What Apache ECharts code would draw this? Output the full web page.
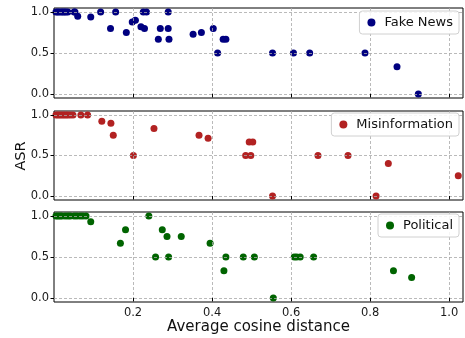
<!DOCTYPE html>
<html><head><meta charset="utf-8">
<script src="https://cdn.jsdelivr.net/npm/echarts@6/dist/echarts.min.js"></script>
<style>html,body{margin:0;padding:0;background:#fff}#c{width:465px;height:338px}</style>
</head><body><div id="c"></div>
<script>
const seriesNames = ['Fake News', 'Misinformation', 'Political'];
const xTicks = [0.2, 0.4, 0.6, 0.8, 1.0];
const yTicks = [0.0, 0.5, 1.0];

const fakeNewsX = [0.005,0.009,0.013,0.018,0.022,0.026,0.030,0.035,0.051,0.053,
  0.060,0.093,0.118,0.156,0.143,0.183,0.198,0.206,0.226,0.234,0.220,0.229,0.264,0.269,0.289,0.289,0.291,
  0.352,0.373,0.403,0.414,0.428,0.435,0.553,0.606,0.647,0.787,0.868,0.922];
const fakeNewsY = [1,1,1,1,1,1,1,1,1,1,
  0.95,0.94,1,1,0.8,0.75,0.88,0.9,1,1,0.82,0.8,0.667,0.8,1,0.8,0.667,
  0.73,0.75,0.8,0.5,0.667,0.667,0.5,0.5,0.5,0.5,0.333,0];

const misinfoX = [0.005,0.010,0.015,0.020,0.025,0.030,0.035,0.041,0.048,0.068,0.085,
  0.121,0.144,0.150,0.201,0.253,0.367,0.390,0.494,0.503,0.485,0.498,0.553,0.668,0.744,0.846,0.815,1.023];
const misinfoY = [1,1,1,1,1,1,1,1,1,1,1,
  0.923,0.9,0.75,0.5,0.833,0.75,0.714,0.667,0.667,0.5,0.5,0,0.5,0.5,0.4,0,0.25];

const politicalX = [0.005,0.010,0.015,0.020,0.028,0.035,0.041,0.051,0.058,0.066,0.073,0.081,0.240,
  0.093,0.168,0.181,0.257,0.274,0.286,0.290,0.322,0.395,0.430,0.435,0.479,0.507,0.555,0.608,0.614,0.623,0.657,0.859,0.905];
const politicalY = [1,1,1,1,1,1,1,1,1,1,1,1,1,
  0.93,0.667,0.833,0.5,0.833,0.75,0.5,0.75,0.667,0.333,0.5,0.5,0.5,0,0.5,0.5,0.5,0.5,0.333,0.25];

const colors = ['#000080', '#B22222', '#006400'];
const xs = [fakeNewsX, misinfoX, politicalX];
const ys = [fakeNewsY, misinfoY, politicalY];

const grids = [{top:8,height:90},{top:111,height:89},{top:212,height:90}];
const legendTops = [11, 113, 214];
const font = 'DejaVu Sans';

const chart = echarts.init(document.getElementById('c'), null, {renderer:'canvas'});
const option = {
  animation: false,
  textStyle: {fontFamily: font},
  grid: grids.map(g => ({left:54, right:2, top:g.top, height:g.height, show:true, borderColor:'#000', borderWidth:1, backgroundColor:'transparent'})),
  xAxis: grids.map((g,i) => ({
    type:'value', gridIndex:i, min:0, max:1.035, z:3,
    axisLine:{show:false},
    axisTick:{show:true, length:3.5, inside:false, customValues:xTicks, lineStyle:{color:'#000'}},
    axisLabel:{show:i===2, customValues:xTicks, margin:5, color:'#1a1a1a', fontSize:11.5, fontFamily:font,
      formatter:v=>v.toFixed(1)},
    splitLine:{show:true, lineStyle:{color:'#a8a8a8', type:[3,2], width:0.8}}
  })),
  yAxis: grids.map((g,i) => ({
    type:'value', gridIndex:i, min:-0.05, max:1.05, z:3,
    axisLine:{show:false},
    axisTick:{show:true, length:3.5, customValues:yTicks, lineStyle:{color:'#000'}},
    axisLabel:{show:true, customValues:yTicks, margin:5, color:'#1a1a1a', fontSize:11.5, fontFamily:font,
      formatter:v=>v.toFixed(1)},
    splitLine:{show:true, lineStyle:{color:'#a8a8a8', type:[3,2], width:0.8}}
  })),
  legend: seriesNames.map((n,i) => ({
    data:[n], right:6, top:legendTops[i], orient:'vertical',
    backgroundColor:'rgba(255,255,255,0.85)', borderColor:'#d0d0d0', borderWidth:1, borderRadius:3,
    padding:[5,6,5,8], itemWidth:8, itemHeight:8, itemGap:4, icon:'circle',
    textStyle:{fontSize:13, color:'#111', fontFamily:font, padding:[0,0,0,4]}
  })),
  series: seriesNames.map((n,i) => ({
    name:n, type:'scatter', xAxisIndex:i, yAxisIndex:i, symbolSize:7, z:2,
    itemStyle:{color:colors[i], opacity:1},
    data: xs[i].map((x,j) => [x, ys[i][j]])
  })),
  graphic: [
    {type:'text', x:258.5, y:327, style:{text:'Average cosine distance', font:'15px "DejaVu Sans"', fill:'#111', textAlign:'center', textVerticalAlign:'middle'}},
    {type:'text', x:21, y:156, rotation:Math.PI/2, style:{text:'ASR', font:'14.5px "DejaVu Sans"', fill:'#111', textAlign:'center', textVerticalAlign:'middle'}}
  ]
};
chart.setOption(option);
</script></body></html>
